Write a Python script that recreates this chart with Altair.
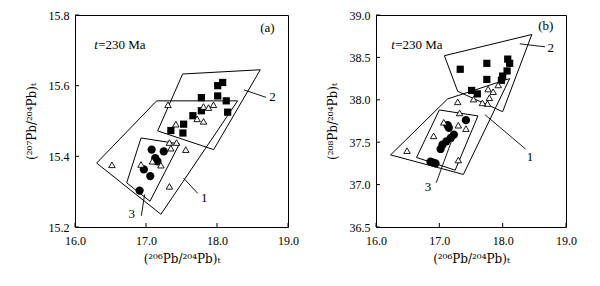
import altair as alt
import pandas as pd

FONT = "Liberation Serif"
TFONT = "DejaVu Serif"

# ---------------- Panel (a): 207Pb/204Pb vs 206Pb/204Pb ----------------
a_sq_x = [18.01, 18.08, 17.78, 18.01, 18.13, 18.15, 17.66, 17.78, 17.53, 17.35, 17.52]
a_sq_y = [15.600, 15.609, 15.566, 15.571, 15.557, 15.525, 15.515, 15.529, 15.491, 15.473, 15.466]
a_ci_x = [17.08, 17.25, 17.13, 17.16, 16.97, 17.06, 16.91]
a_ci_y = [15.419, 15.414, 15.395, 15.386, 15.363, 15.344, 15.303]
a_tr_x = [17.31, 17.81, 17.88, 17.95, 17.72, 17.81, 17.42, 17.33, 17.43, 17.35,
          17.56, 16.52, 16.93, 17.09, 17.21, 17.33]
a_tr_y = [15.546, 15.541, 15.538, 15.546, 15.506, 15.499, 15.491, 15.439, 15.439, 15.423,
          15.419, 15.376, 15.377, 15.386, 15.375, 15.315]
a_poly1 = [(16.305, 15.381), (17.15, 15.557), (18.29, 15.557), (17.21, 15.236)]
a_poly2 = [(17.516, 15.633), (18.61, 15.645), (17.953, 15.419), (17.164, 15.472)]
a_poly3 = [(16.93, 15.452), (17.47, 15.435), (17.056, 15.273), (16.728, 15.325)]
a_leaders = [((17.53, 15.338), (17.73, 15.295)),
             ((18.38, 15.588), (18.69, 15.567)),
             ((16.98, 15.292), (16.935, 15.232))]
a_labels = [("1", 17.82, 15.283), ("2", 18.78, 15.568), ("3", 16.80, 15.236)]
a_tag = ("(a)", 18.71, 15.764)
a_age = (16.27, 15.715)
a_xticks = [16.0, 17.0, 18.0, 19.0]
a_yticks = [15.2, 15.4, 15.6, 15.8]

# ---------------- Panel (b): 208Pb/204Pb vs 206Pb/204Pb ----------------
b_sq_x = [17.33, 17.75, 17.75, 18.08, 18.11, 18.07, 18.00, 17.98, 17.51, 17.60]
b_sq_y = [38.36, 38.43, 38.24, 38.48, 38.43, 38.34, 38.28, 38.23, 38.11, 38.07]
b_ci_x = [17.42, 17.13, 17.15, 17.23, 17.18, 17.11, 17.05, 17.02, 16.86, 16.94, 16.90]
b_ci_y = [37.76, 37.70, 37.67, 37.59, 37.55, 37.51, 37.47, 37.42, 37.27, 37.25, 37.26]
b_tr_x = [17.93, 17.85, 17.77, 17.79, 17.76, 17.68, 17.54, 17.29, 17.32, 17.07,
          17.30, 17.42, 16.91, 16.49, 17.30]
b_tr_y = [38.175, 38.095, 38.127, 38.024, 37.956, 37.964, 38.008, 37.976, 37.845, 37.735,
          37.70, 37.66, 37.575, 37.40, 37.29]
b_poly1 = [(16.23, 37.35), (17.13, 38.01), (18.11, 38.25), (17.38, 37.12)]
b_poly2 = [(17.08, 38.52), (18.46, 38.77), (18.00, 37.86), (17.29, 38.10)]
b_poly3 = [(17.00, 37.88), (17.61, 37.81), (17.25, 37.17), (16.64, 37.32)]
b_leaders = [((17.72, 37.825), (18.36, 37.42)),
             ((18.27, 38.66), (18.67, 38.625)),
             ((17.21, 37.55), (16.95, 37.02))]
b_labels = [("1", 18.43, 37.33), ("2", 18.76, 38.615), ("3", 16.82, 36.97)]
b_tag = ("(b)", 18.68, 38.87)
b_age = (16.24, 38.645)
b_xticks = [16.0, 17.0, 18.0, 19.0]
b_yticks = [36.5, 37.0, 37.5, 38.0, 38.5, 39.0]


def panel(sq_x, sq_y, ci_x, ci_y, tr_x, tr_y, polys, leaders, labels, tag, age,
          xticks, yticks, ytitle, w, h):
    xs = alt.Scale(domain=[xticks[0], xticks[-1]], nice=False, zero=False)
    ys = alt.Scale(domain=[yticks[0], yticks[-1]], nice=False, zero=False)
    xax = alt.Axis(values=xticks, format=".1f", title="(²⁰⁶Pb/²⁰⁴Pb)ₜ",
                   labelPadding=8, titlePadding=7, labelFlush=False)
    yax = alt.Axis(values=yticks, format=".1f", title=ytitle,
                   labelPadding=6, titlePadding=10, labelFlush=False)

    rows = []
    for pid, verts in enumerate(polys):
        for i, (vx, vy) in enumerate(list(verts) + [verts[0]]):
            rows.append({"pid": pid, "ord": i, "x": vx, "y": vy})
    poly_df = pd.DataFrame(rows)
    base_poly = alt.Chart(poly_df).mark_line(color="black", strokeWidth=1).encode(
        x=alt.X("x:Q", scale=xs, axis=xax),
        y=alt.Y("y:Q", scale=ys, axis=yax),
        detail="pid:N",
        order="ord:Q",
    )

    lead_df = pd.DataFrame([{"x": p[0], "y": p[1], "x2": q[0], "y2": q[1]} for p, q in leaders])
    lead = alt.Chart(lead_df).mark_rule(color="black", strokeWidth=0.9).encode(
        x="x:Q", y="y:Q", x2="x2:Q", y2="y2:Q")

    sq = alt.Chart(pd.DataFrame({"x": sq_x, "y": sq_y})).mark_square(
        color="black", size=52, opacity=1).encode(x="x:Q", y="y:Q")
    ci = alt.Chart(pd.DataFrame({"x": ci_x, "y": ci_y})).mark_circle(
        color="black", size=68, opacity=1).encode(x="x:Q", y="y:Q")
    tr = alt.Chart(pd.DataFrame({"x": tr_x, "y": tr_y})).mark_point(
        shape="triangle-up", filled=True, fill="white", stroke="black",
        strokeWidth=0.9, size=42, opacity=1).encode(x="x:Q", y="y:Q")

    lab_df = pd.DataFrame([{"t": t, "x": lx, "y": ly} for t, lx, ly in labels] +
                          [{"t": tag[0], "x": tag[1], "y": tag[2]}])
    labs = alt.Chart(lab_df).mark_text(font=FONT, fontSize=13, color="black").encode(
        x="x:Q", y="y:Q", text="t:N")

    age_df = pd.DataFrame([{"x": age[0], "y": age[1]}])
    age_t = alt.Chart(age_df).mark_text(font=FONT, fontSize=13, fontStyle="italic",
                                        align="left", color="black").encode(
        x="x:Q", y="y:Q", text=alt.value("t"))
    age_r = alt.Chart(age_df).mark_text(font=FONT, fontSize=13, align="left", dx=4,
                                        color="black").encode(
        x="x:Q", y="y:Q", text=alt.value("=230 Ma"))

    xt = alt.Chart(pd.DataFrame({"x": xticks})).mark_rule(color="black").encode(
        x="x:Q", y=alt.value(h), y2=alt.value(h - 4))
    yt = alt.Chart(pd.DataFrame({"y": yticks})).mark_rule(color="black").encode(
        y="y:Q", x=alt.value(0), x2=alt.value(4))

    return alt.layer(base_poly, lead, xt, yt, sq, ci, tr, labs, age_t, age_r).properties(
        width=w, height=h)


pa = panel(a_sq_x, a_sq_y, a_ci_x, a_ci_y, a_tr_x, a_tr_y,
           [a_poly1, a_poly2, a_poly3], a_leaders, a_labels, a_tag, a_age,
           a_xticks, a_yticks, "(²⁰⁷Pb/²⁰⁴Pb)ₜ", 213, 212)
pb = panel(b_sq_x, b_sq_y, b_ci_x, b_ci_y, b_tr_x, b_tr_y,
           [b_poly1, b_poly2, b_poly3], b_leaders, b_labels, b_tag, b_age,
           b_xticks, b_yticks, "(²⁰⁸Pb/²⁰⁴Pb)ₜ", 190, 212)

chart = alt.hconcat(pa, pb, spacing=26).properties(
    padding={"left": 16, "top": 0, "right": 0, "bottom": 0},
    background="white",
).configure_view(stroke="black", strokeWidth=1).configure_axis(
    labelFont=FONT, titleFont=TFONT, labelFontSize=12, titleFontSize=12,
    labelColor="black", titleColor="black", titleFontWeight="normal",
    domain=False, ticks=False, grid=False,
)

chart.save("out.html", embed_options={"renderer": "svg", "actions": False})
